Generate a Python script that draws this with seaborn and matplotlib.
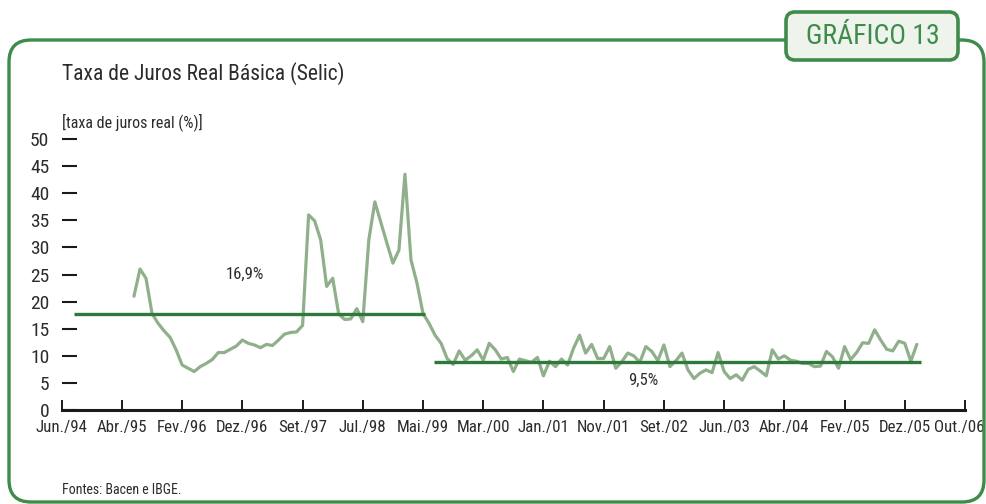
import matplotlib
matplotlib.use("Agg")
import matplotlib.pyplot as plt
from matplotlib import font_manager as fm
from matplotlib.patches import FancyBboxPatch
from matplotlib.transforms import IdentityTransform, ScaledTranslation
import numpy as np
import pandas as pd
import seaborn as sns

# monthly positions (category index) and real Selic rate (%)
month_idx = np.arange(12, 143)
selic_real = [
    21.0, 26.0, 24.3, 17.8, 16.0, 14.6, 13.4, 11.1, 8.3, 7.7,
    7.1, 8.0, 8.6, 9.3, 10.6, 10.6, 11.2, 11.8, 12.9, 12.3,
    12.0, 11.5, 12.1, 11.9, 12.9, 14.0, 14.3, 14.4, 15.6, 36.0,
    34.9, 31.4, 22.8, 24.3, 17.7, 16.7, 16.8, 18.7, 16.3, 31.4,
    38.4, 34.6, 30.8, 27.1, 29.5, 43.5, 27.7, 23.4,
    17.8, 16.0, 13.8, 12.3, 9.5, 8.4, 10.9, 9.2, 10.0, 11.1,
    9.2, 12.3, 11.1, 9.4, 9.7, 7.1, 9.4, 9.1, 8.8, 9.7,
    6.3, 9.0, 8.0, 9.4, 8.3, 11.4, 13.8, 10.5, 12.1, 9.5,
    9.5, 11.7, 7.7, 8.9, 10.5, 10.0, 8.8, 11.7, 10.8, 9.1,
    12.0, 8.0, 9.1, 10.5, 7.4, 5.8, 6.8, 7.4, 6.9, 10.6,
    7.1, 5.8, 6.5, 5.5, 7.5, 8.0, 7.2, 6.3, 11.1, 9.4,
    10.0, 9.2, 9.0, 8.6, 8.6, 8.0, 8.1, 10.8, 9.8, 7.7,
    11.7, 9.3, 10.6, 12.4, 12.3, 14.8, 12.9, 11.2, 10.9, 12.7,
    12.3, 9.0, 12.1,
]

# period averages (as drawn) and their labels
avg_start = [2, 61.8]
avg_end = [60.3, 142.7]
avg_value = [17.7, 8.9]
avg_label = ["16,9%", "9,5%"]
avg_label_pos = [(30.4, 25.1), (96.6, 5.4)]

tick_pos = list(range(0, 151, 10))
tick_labels = ["Jun./94", "Abr./95", "Fev./96", "Dez./96", "Set./97", "Jul./98",
               "Mai./99", "Mar./00", "Jan./01", "Nov./01", "Set./02", "Jun./03",
               "Abr./04", "Fev./05", "Dez./05", "Out./06"]
y_ticks = list(range(0, 51, 5))

sns.set_style("white")
plt.rcParams['font.family'] = ['DejaVu Sans']


def find_narrow():
    # look for an installed condensed / narrow face
    cands = []
    for f in fm.fontManager.ttflist:
        nm = f.name.lower()
        path = f.fname.lower()
        narrow = ("narrow" in nm or "condensed" in nm or "condensed" in str(f.stretch)
                  or "condensed" in path or "narrow" in path)
        if not narrow or f.style != "normal":
            continue
        if "semi" in path or "extra" in path or "ultra" in path:
            continue
        if f.weight not in (400, "normal", "regular", "book"):
            continue
        cands.append(f)
    order = ["liberation", "noto sans", "roboto", "open sans", "dejavu"]
    for key in order:
        for f in cands:
            if key in f.name.lower():
                return f.fname
    return cands[0].fname if cands else None


narrow_path = find_narrow()


def fp(size):
    if narrow_path:
        return fm.FontProperties(fname=narrow_path, size=size)
    return fm.FontProperties(family="DejaVu Sans", size=size * 0.85)


W, H = 987, 504
fig = plt.figure(figsize=(W / 100, H / 100), dpi=100)
fig.patch.set_facecolor("white")

green = "#3f8b4b"
line_green = "#8fb08a"
avg_green = "#2e7a3c"
txt = "#2b2b2b"

# outer frame and badge, in pixel coordinates
frame = FancyBboxPatch((9, H - 502), 975, 502 - 40,
                       boxstyle="round,pad=0,rounding_size=22",
                       transform=IdentityTransform(), fill=False,
                       edgecolor=green, linewidth=2.4, zorder=0)
fig.patches.append(frame)
badge = FancyBboxPatch((786, H - 60), 172, 48,
                       boxstyle="round,pad=0,rounding_size=9",
                       transform=IdentityTransform(), facecolor="#eef4ec",
                       edgecolor=green, linewidth=2.6, zorder=1)
fig.patches.append(badge)
fig.text(873 / W, 1 - 37 / H, "GRÁFICO 13", ha="center", va="center",
         color=green, fontproperties=fp(20))

fig.text(62 / W, 1 - 74 / H, "Taxa de Juros Real Básica (Selic)", ha="left",
         va="center", color=txt, fontproperties=fp(15.5))
fig.text(62 / W, 1 - 122 / H, "[taxa de juros real (%)]", ha="left",
         va="center", color=txt, fontproperties=fp(11.5))
fig.text(62 / W, 1 - 490 / H, "Fontes: Bacen e IBGE.", ha="left",
         va="center", color=txt, fontproperties=fp(10))

ax = fig.add_axes([61.7 / W, 1 - 410 / H, (965 - 61.7) / W, (410 - 139) / H])
ax.set_facecolor("none")

df = pd.DataFrame({"mes": month_idx, "taxa": selic_real})
sns.lineplot(data=df, x="mes", y="taxa", ax=ax, color=line_green, linewidth=2.3)

for s, e, v in zip(avg_start, avg_end, avg_value):
    ax.hlines(v, s, e, color=avg_green, linewidth=2.4, zorder=3)
for lab, (lx, ly) in zip(avg_label, avg_label_pos):
    ax.text(lx, ly, lab, ha="center", va="center", color=txt, fontproperties=fp(12))

ax.set_xlim(0, 150)
ax.set_ylim(0, 50)
ax.set_xticks(tick_pos)
ax.set_xticklabels(tick_labels)
ax.set_yticks(y_ticks)
ax.set_yticklabels([str(v) for v in y_ticks])
ax.set_xlabel("")
ax.set_ylabel("")

for side in ["top", "right", "left"]:
    ax.spines[side].set_visible(False)
ax.spines["bottom"].set_color("#1a1a1a")
ax.spines["bottom"].set_linewidth(2.2)

ax.tick_params(axis="x", bottom=True, direction="in", length=7.5, width=1.4,
               color="#1a1a1a", pad=7, labelcolor=txt)
ax.tick_params(axis="y", left=True, direction="in", length=10.5, width=1.5,
               color="#1a1a1a", pad=9, labelcolor=txt)
xlabs = ax.get_xticklabels()
for lab in xlabs:
    lab.set_fontproperties(fp(12.2))
# keep the last date label inside the frame
xlabs[-1].set_transform(xlabs[-1].get_transform() +
                        ScaledTranslation(-6 / 100, 0, fig.dpi_scale_trans))
for lab in ax.get_yticklabels():
    lab.set_fontproperties(fp(14))

fig.savefig("out.png", dpi=100)
